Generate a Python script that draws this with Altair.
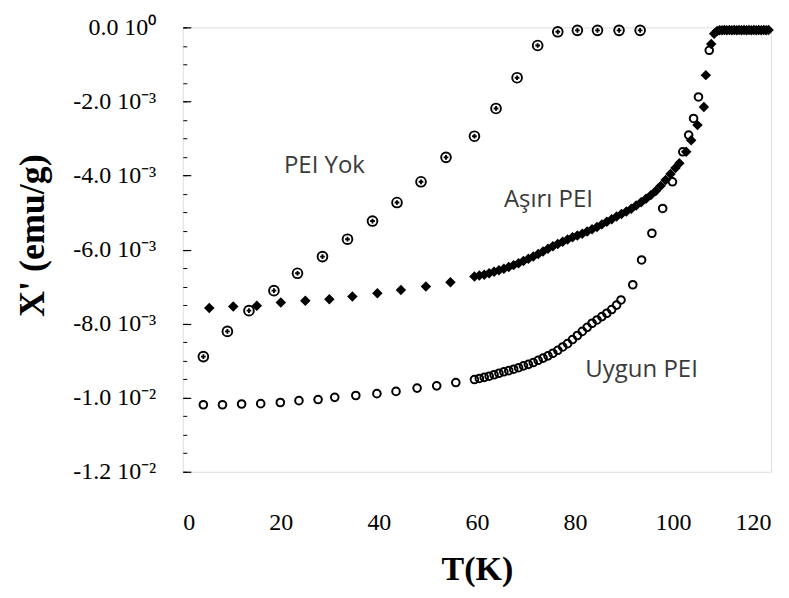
import json
import altair as alt
import pandas as pd

# ---- data (susceptibility in units of 1e-3 emu/g) ----
yok_T = [4.2, 9.1, 13.5, 18.6, 23.4, 28.5, 33.6, 38.7, 43.7, 48.6, 53.7, 59.5,
         63.9, 68.2, 72.4, 76.5, 80.5, 84.6, 89.0, 93.3]
yok_X = [-8.89, -8.21, -7.65, -7.11, -6.64, -6.19, -5.72, -5.23, -4.73, -4.17,
         -3.51, -2.94, -2.19, -1.36, -0.49, -0.12, -0.08, -0.08, -0.08, -0.08]

asiri_T = [5.4, 10.3, 15.1, 20.0, 25.0, 29.9, 34.6, 39.7, 44.5, 49.6, 54.6,
           59.5, 60.5, 61.5, 62.5, 63.5, 64.5, 65.5, 66.5, 67.5, 68.5, 69.5,
           70.5, 71.5, 72.5, 73.5, 74.5, 75.5, 76.5, 77.5, 78.5, 79.5, 80.5,
           81.5, 82.5, 83.5, 84.5, 85.5, 86.5, 87.5, 88.5, 89.5, 90.5, 91.5,
           92.5, 93.5, 94.5, 95.5, 96.5, 97.5, 98.5, 99.5, 100.5, 101.3, 102.7,
           103.7, 105.0, 106.3, 106.7, 107.8, 108.4,
           109.0, 109.5, 110.0, 110.5, 111.0, 111.5, 112.0, 112.5, 113.0, 113.5,
           114.0, 114.5, 115.0, 115.5, 116.0, 116.5, 117.0, 117.5, 118.0, 118.5,
           119.0, 119.5]
asiri_X = [-7.58, -7.54, -7.52, -7.43, -7.38, -7.34, -7.27, -7.18, -7.09, -7.00, -6.88,
           -6.73, -6.70, -6.68, -6.64, -6.60, -6.56, -6.52, -6.47, -6.42, -6.37, -6.31,
           -6.25, -6.19, -6.12, -6.05, -5.98, -5.91, -5.85, -5.79, -5.73, -5.67, -5.62,
           -5.57, -5.51, -5.45, -5.39, -5.32, -5.25, -5.18, -5.11, -5.04, -4.97, -4.90,
           -4.81, -4.72, -4.63, -4.53, -4.42, -4.28, -4.12, -3.96, -3.80, -3.67, -3.36,
           -3.05, -2.64, -2.15, -1.29, -0.45, -0.17,
           -0.10, -0.08, -0.08, -0.07, -0.08, -0.07, -0.08, -0.07, -0.08, -0.07,
           -0.08, -0.07, -0.08, -0.07, -0.08, -0.07, -0.08, -0.07, -0.08, -0.07,
           -0.08, -0.07]

uygun_T = [4.2, 8.1, 12.0, 15.9, 19.9, 23.7, 27.6, 31.0, 35.3, 39.6, 43.5, 47.8,
           51.8, 55.7, 59.5, 60.5, 61.5, 62.5, 63.5, 64.5, 65.5, 66.5, 67.5, 68.5,
           69.5, 70.5, 71.5, 72.5, 73.5, 74.5, 75.5, 76.5, 77.5, 78.5, 79.5, 80.5,
           81.5, 82.5, 83.5, 84.5, 85.5, 86.5, 87.5, 88.5, 89.4, 91.8, 93.6, 95.7,
           97.9, 99.9, 102.0, 103.2, 104.2, 105.2, 107.4]
uygun_X = [-10.19, -10.19, -10.17, -10.16, -10.13, -10.08, -10.05, -9.99, -9.94, -9.89,
           -9.83, -9.74, -9.68, -9.59, -9.51, -9.48, -9.45, -9.42, -9.38, -9.34, -9.30,
           -9.27, -9.23, -9.19, -9.14, -9.10, -9.05, -8.99, -8.93, -8.87, -8.80, -8.72,
           -8.63, -8.54, -8.43, -8.32, -8.21, -8.10, -7.99, -7.90, -7.81, -7.72, -7.62,
           -7.50, -7.36, -6.95, -6.28, -5.56, -4.89, -4.17, -3.36, -2.91, -2.46, -1.88,
           -0.62]

x_tick_values = [0, 20, 40, 60, 80, 100, 120]
y_tick_values = [0, -2, -4, -6, -8, -10, -12]
y_tick_labels = ["0.0 10⁰", "-2.0 10⁻³", "-4.0 10⁻³", "-6.0 10⁻³",
                 "-8.0 10⁻³", "-1.0 10⁻²", "-1.2 10⁻²"]
y_minor_values = [0, -0.5, -1, -1.5, -2, -2.5, -3, -3.5, -4, -4.5, -5, -5.5, -6,
                  -6.5, -7, -7.5, -8, -8.5, -9, -9.5, -10, -10.5, -11, -11.5, -12]

ann_text = ["PEI Yok", "Aşırı PEI", "Uygun PEI"]
ann_T = [28.9, 74.6, 93.6]
ann_X = [-3.75, -4.66, -9.25]

yok = pd.DataFrame({"T": yok_T, "X": yok_X})
asiri = pd.DataFrame({"T": asiri_T, "X": asiri_X})
uygun = pd.DataFrame({"T": uygun_T, "X": uygun_X})
ann = pd.DataFrame({"T": ann_T, "X": ann_X, "label": ann_text})

SERIF = "Liberation Serif"

xscale = alt.Scale(domain=[0, 120], nice=False, zero=False)
yscale = alt.Scale(domain=[-12, 0], nice=False, zero=False)

x_axis = alt.Axis(
    values=x_tick_values, title="T(K)", grid=False, domain=False,
    ticks=False, tickSize=0, labelPadding=39, labelFont=SERIF, labelFontSize=24,
    labelColor="black", titleFont=SERIF,
    titleFontSize=34, titleFontWeight="bold", titleColor="black", titlePadding=18)
x_main = alt.X("T:Q", scale=xscale, axis=x_axis)
x_plain = alt.X("T:Q", scale=xscale)

label_expr = "[" + ",".join(json.dumps(s, ensure_ascii=False) for s in y_tick_labels) + \
    "][round(-datum.value/2)]"

y_major = alt.Y("X:Q", scale=yscale, axis=alt.Axis(
    orient="left", values=y_tick_values, labelExpr=label_expr, grid=False,
    domain=False, offset=-8, tickSize=8, tickColor="black", tickWidth=1.2,
    labelPadding=27, labelFont=SERIF, labelFontSize=24,
    labelColor="black",
    title="X' (emu/g)", titleFont=SERIF, titleFontSize=36, titleFontWeight="bold",
    titleColor="black", titleAngle=270, titleAlign="center", titleBaseline="middle",
    titleX=-158, titleY=208))

y_minor = alt.Y("X:Q", scale=yscale, axis=alt.Axis(
    orient="left", values=y_minor_values, labels=False, grid=False, domain=False,
    offset=-4, tickSize=4, tickColor="black", tickWidth=1, title=None))

y_none = alt.Y("X:Q", scale=yscale, axis=None)

yok_ring = alt.Chart(yok).mark_point(
    shape="circle", filled=False, color="black", size=95, strokeWidth=1.9, opacity=1
).encode(x=x_main, y=y_major)
yok_dot = alt.Chart(yok).mark_point(
    shape="cross", filled=True, color="black", size=22, opacity=1
).encode(x=x_plain, y=y_none)

asiri_pts = alt.Chart(asiri).mark_point(
    shape="diamond", filled=True, color="black", size=110, opacity=1
).encode(x=x_plain, y=y_minor)

uygun_pts = alt.Chart(uygun).mark_point(
    shape="circle", filled=False, color="black", size=58, strokeWidth=2, opacity=1
).encode(x=x_plain, y=y_none)

ann_layer = alt.Chart(ann).mark_text(
    font="Open Sans", fontSize=24, color="#3a3a3a", align="center", baseline="middle"
).encode(x=x_plain, y=y_none, text="label:N")

chart = alt.layer(
    yok_ring, asiri_pts, uygun_pts, yok_dot, ann_layer
).resolve_axis(y="independent").resolve_scale(y="shared").properties(
    width=589, height=445,
    autosize=alt.AutoSizeParams(type="none"),
    padding={"left": 175, "top": 19, "right": 10, "bottom": 118},
).configure_view(stroke="black", strokeWidth=1.5).configure(
    background="white",
    style={"guide-label": {"font": SERIF}, "guide-title": {"font": SERIF}},
)

chart.save("out.html", embed_options={"renderer": "svg", "actions": False})
